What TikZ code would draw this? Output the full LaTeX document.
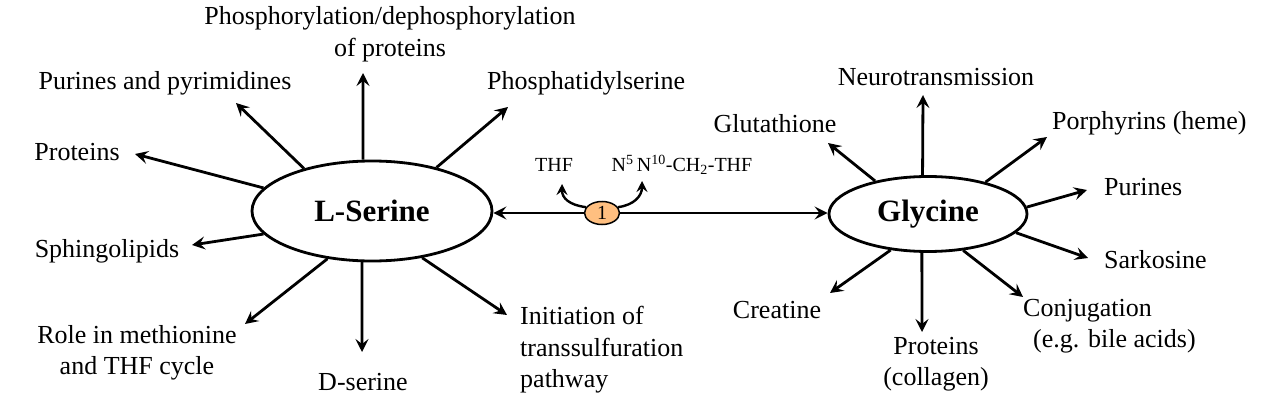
\documentclass[tikz,border=0pt]{standalone}
\usepackage{fontspec}
\setmainfont{Liberation Serif}
\usetikzlibrary{shapes.geometric,arrows.meta}
\tikzset{
  arr/.style={line width=2.8pt,-{Stealth[length=13pt,width=13pt,inset=5pt]}},
  hub/.style={ellipse,draw,line width=2.8pt,inner sep=0pt,fill=white,font=\fontsize{31}{36}\selectfont\bfseries},
  lbl/.style={inner sep=0pt,align=center,font=\fontsize{26}{31.5}\selectfont},
  small/.style={inner sep=0pt,font=\fontsize{20}{24}\selectfont},
  enz/.style={ellipse,draw,line width=1.5pt,fill=orange!50!white,inner sep=0pt,minimum width=35pt,minimum height=23pt,font=\fontsize{20}{22}\selectfont}
}
\begin{document}
\begin{tikzpicture}[x=1pt,y=-1pt]
\useasboundingbox (0,0) rectangle (1269,412);
% hubs
\node[hub,minimum width=240pt,minimum height=100pt] (ser) at (372,211) {L-Serine};
\node[hub,minimum width=198pt,minimum height=75pt] (gly) at (928,214) {Glycine};
% L-Serine labels
\node[lbl] (phos) at (390,34) {Phosphorylation/dephosphorylation\\of proteins};
\node[lbl] (purpy) at (165,83) {Purines and pyrimidines};
\node[lbl,anchor=west] (phtd) at (487,83) {Phosphatidylserine};
\node[lbl] (prot) at (77,152) {Proteins};
\node[lbl] (sph) at (107,251) {Sphingolipids};
\node[lbl] (role) at (137,353) {Role in methionine\\and THF cycle};
\node[lbl] (dser) at (363,382) {D-serine};
\node[lbl,anchor=west,align=left] (init) at (520,350) {Initiation of\\transsulfuration\\pathway};
% Glycine labels
\node[lbl] (neuro) at (936,77) {Neurotransmission};
\node[lbl] (glut) at (775,124) {Glutathione};
\node[lbl,anchor=west] (porph) at (1052,123) {Porphyrins (heme)};
\node[lbl,anchor=west] (gpur) at (1104,187) {Purines};
\node[lbl,anchor=west] (sark) at (1104,260) {Sarkosine};
\node[lbl] (creat) at (777,310) {Creatine};
\node[lbl,anchor=west,align=left] (conj) at (1023,326) {Conjugation\\\hspace*{10pt}(e.g. bile acids)};
\node[lbl] (pcol) at (936,364) {Proteins\\(collagen)};
% arrow tips (free ends)
\coordinate (tprot) at (135,154);
\coordinate (tpur) at (236,103);
\coordinate (tup) at (363,73);
\coordinate (tpts) at (508,107);
\coordinate (tsph) at (192,245);
\coordinate (trole) at (245,324);
\coordinate (tdser) at (362,352);
\coordinate (tinit) at (507,315);
\coordinate (gup) at (923,95);
\coordinate (gglu) at (828,143);
\coordinate (gpor) at (1047,137);
\coordinate (gpu) at (1087,190);
\coordinate (gsar) at (1088,258);
\coordinate (gcon) at (1023,297);
\coordinate (gdown) at (922,332);
\coordinate (gcre) at (830,293);
% L-Serine spokes
\draw[arr] (ser.168) -- (tprot);
\draw[arr] (ser.148) -- (tpur);
\draw[arr] (ser.100) -- (tup);
\draw[arr] (ser.34) -- (tpts);
\draw[arr] (ser.192) -- (tsph);
\draw[arr] (ser.227) -- (trole);
\draw[arr] (ser.259) -- (tdser);
\draw[arr] (ser.317) -- (tinit);
% Glycine spokes
\draw[arr] (gly.98) -- (gup);
\draw[arr] (gly.148) -- (gglu);
\draw[arr] (gly.29) -- (gpor);
\draw[arr] (gly.4) -- (gpu);
\draw[arr] (gly.348) -- (gsar);
\draw[arr] (gly.314) -- (gcon);
\draw[arr] (gly.261) -- (gdown);
\draw[arr] (gly.224) -- (gcre);
% central reaction
\node[enz] (c1) at (602,213) {1};
\draw[arr] (c1.west) -- (c1.west -| ser.east);
\draw[arr] (c1.east) -- (c1.east -| gly.west);
\node[small] (thf) at (554,165) {THF};
\node[small] (mthf) at (682,165) {N\textsuperscript{5}\,N\textsuperscript{10}-CH\textsubscript{2}-THF};
\coordinate (tthf) at (562,184);
\coordinate (tmthf) at (642,181);
\draw[line width=2.4pt,-{Stealth[length=11pt,width=11pt,inset=4pt]}] (c1.160) .. controls (569,205) and (562,198) .. (tthf);
\draw[line width=2.4pt,-{Stealth[length=11pt,width=11pt,inset=4pt]}] (c1.20) .. controls (634,205) and (642,196) .. (tmthf);
\end{tikzpicture}
\end{document}
